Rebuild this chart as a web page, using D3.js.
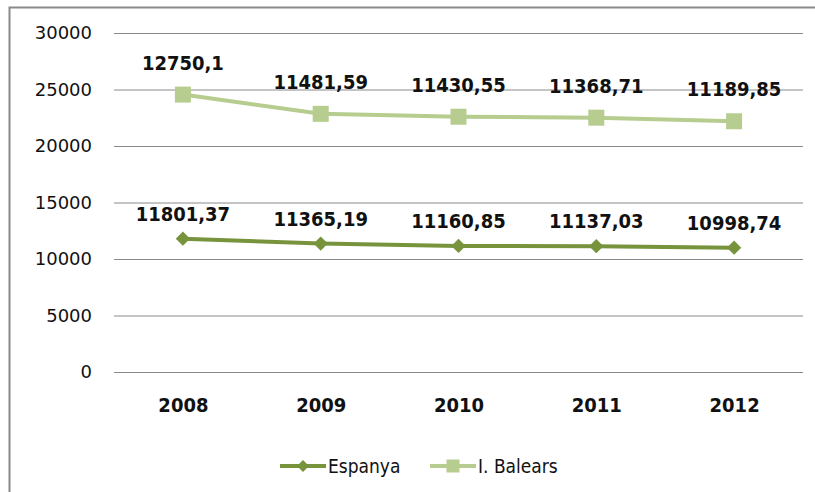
<!DOCTYPE html>
<html>
<head>
<meta charset="utf-8">
<script src="https://cdn.jsdelivr.net/npm/d3@7"></script>
<style>
  html, body { margin: 0; padding: 0; background: #fff; overflow: hidden; }
  svg { display: block; }
</style>
</head>
<body>
<div id="chart"></div>
<script>
// ============= Data =============
const years = ["2008", "2009", "2010", "2011", "2012"];
const espanya = [11801.37, 11365.19, 11160.85, 11137.03, 10998.74];
const balears = [12750.1, 11481.59, 11430.55, 11368.71, 11189.85];
const yTicks = [0, 5000, 10000, 15000, 20000, 25000, 30000];
const seriesNames = ["Espanya", "I. Balears"];

const width = 815;
const height = 492;
const plot = { left: 114, right: 803, top: 33, bottom: 372 };

const colors = { "Espanya": "#77933c", "I. Balears": "#b6cd8f" };
const fmt = v => String(v).replace(".", ",");

// stacked line: I. Balears sits on top of Espanya
const table = years.map((y, i) => ({ year: y, "Espanya": espanya[i], "I. Balears": balears[i] }));
const stacked = d3.stack().keys(seriesNames)(table);

const svg = d3.select("#chart").append("svg")
    .attr("width", width)
    .attr("height", height);

// chart frame (clipped by the picture on the right and bottom)
svg.append("path")
    .attr("d", `M9.5,${height + 5} V7.5 H${width + 5}`)
    .attr("fill", "none")
    .attr("stroke", "#898989")
    .attr("stroke-width", 2);

const x = d3.scalePoint()
    .domain(years)
    .range([plot.left, plot.right])
    .padding(0.5);

const y = d3.scaleLinear()
    .domain([0, 30000])
    .range([plot.bottom, plot.top]);

// gridlines + y labels
const yAxis = svg.append("g")
    .attr("transform", `translate(${plot.left},0)`)
    .call(d3.axisLeft(y).tickValues(yTicks).tickSize(-(plot.right - plot.left)).tickPadding(22).tickFormat(d => d));
yAxis.select(".domain").remove();
yAxis.selectAll(".tick line").attr("stroke", "#8a8a8a").attr("stroke-width", 1);
yAxis.selectAll(".tick text")
    .attr("fill", "#111")
    .style("font-family", "'DejaVu Sans'")
    .style("font-size", "18px");

// x labels
const xAxis = svg.append("g")
    .attr("transform", `translate(0,${plot.bottom})`)
    .call(d3.axisBottom(x).tickSize(0).tickPadding(26));
xAxis.select(".domain").remove();
xAxis.selectAll(".tick text")
    .attr("fill", "#111")
    .style("font-family", "'DejaVu Sans Condensed', 'DejaVu Sans'")
    .style("font-weight", "bold")
    .style("font-size", "20px");

const line = d3.line()
    .x(d => x(d.data.year))
    .y(d => y(d[1]));

const diamond = d3.symbol().type(d3.symbolDiamond2).size(130);

stacked.forEach(s => {
    const name = s.key;
    const g = svg.append("g");
    g.append("path")
        .datum(s)
        .attr("d", line)
        .attr("fill", "none")
        .attr("stroke", colors[name])
        .attr("stroke-width", 4)
        .attr("stroke-linejoin", "round");

    if (name === "Espanya") {
        g.selectAll("path.marker")
            .data(s)
            .join("path")
            .attr("class", "marker")
            .attr("transform", d => `translate(${x(d.data.year)},${y(d[1])})`)
            .attr("d", diamond)
            .attr("fill", colors[name]);
    } else {
        g.selectAll("rect")
            .data(s)
            .join("rect")
            .attr("x", d => x(d.data.year) - 8)
            .attr("y", d => y(d[1]) - 8)
            .attr("width", 16)
            .attr("height", 16)
            .attr("fill", colors[name]);
    }

    const off = name === "Espanya" ? 18 : 25;
    g.selectAll("text")
        .data(s)
        .join("text")
        .attr("x", d => x(d.data.year))
        .attr("y", d => y(d[1]) - off)
        .attr("text-anchor", "middle")
        .attr("fill", "#111")
        .style("font-family", "'DejaVu Sans Condensed', 'DejaVu Sans'")
        .style("font-weight", "bold")
        .style("font-size", "20px")
        .text(d => fmt(d.data[name]));
});

// legend
const legendY = 466;
const legendItems = [
    { name: "Espanya", x0: 280 },
    { name: "I. Balears", x0: 430 }
];
const legend = svg.append("g");
legendItems.forEach(it => {
    const c = colors[it.name];
    legend.append("line")
        .attr("x1", it.x0).attr("x2", it.x0 + 46)
        .attr("y1", legendY).attr("y2", legendY)
        .attr("stroke", c).attr("stroke-width", 4);
    if (it.name === "Espanya") {
        legend.append("path")
            .attr("transform", `translate(${it.x0 + 23},${legendY})`)
            .attr("d", d3.symbol().type(d3.symbolDiamond2).size(90))
            .attr("fill", c);
    } else {
        legend.append("rect")
            .attr("x", it.x0 + 23 - 6.5).attr("y", legendY - 6.5)
            .attr("width", 13).attr("height", 13)
            .attr("fill", c);
    }
    legend.append("text")
        .attr("x", it.x0 + 48)
        .attr("y", legendY + 7)
        .attr("fill", "#111")
        .style("font-family", "'DejaVu Sans Condensed', 'DejaVu Sans'")
        .style("font-size", "19px")
        .text(it.name);
});
</script>
</body>
</html>
